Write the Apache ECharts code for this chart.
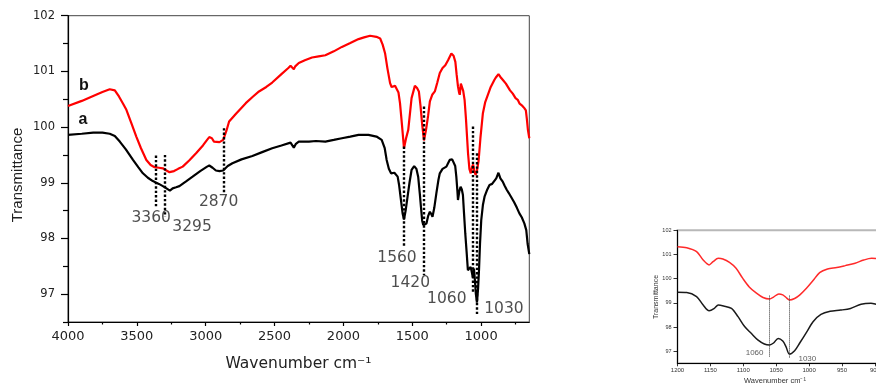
<!DOCTYPE html>
<html>
<head>
<meta charset="utf-8">
<title>FTIR spectra</title>
<script src="https://cdn.jsdelivr.net/npm/echarts@6/dist/echarts.min.js"></script>
<style>
  html, body { margin: 0; padding: 0; background: #fff; }
  #chart { width: 876px; height: 385px; }
</style>
</head>
<body>
<div id="chart"></div>
<script>
// ---------- Spectrum a (black) ----------
const waveA = [4000,3900,3817,3750,3697,3660,3624,3580,3528,3490,3456,3420,3384,3340,3311,3285,3260,3240,3215,3191,3140,3095,3040,2990,2974,2950,2926,2900,2873,2840,2806,2740,2661,2590,2517,2450,2384,2370,2360,2345,2324,2250,2200,2131,2070,2011,1950,1890,1818,1760,1722,1700,1686,1670,1654,1640,1630,1618,1606,1595,1582,1570,1560,1548,1534,1520,1505,1486,1470,1457,1445,1437,1428,1420,1410,1397,1385,1372,1362,1353,1340,1325,1310,1300,1280,1252,1240,1228,1210,1197,1188,1180,1172,1168,1158,1149,1140,1132,1124,1115,1105,1096,1085,1076,1068,1060,1052,1045,1038,1030,1022,1015,1008,999,987,975,955,939,920,908,890,874,860,843,830,815,800,783,760,740,722,705,686,672,662,650];
const transA = [99.86,99.88,99.90,99.90,99.88,99.84,99.74,99.60,99.41,99.28,99.17,99.09,99.03,98.98,98.94,98.90,98.86,98.90,98.92,98.94,99.03,99.11,99.21,99.29,99.31,99.27,99.22,99.21,99.22,99.30,99.35,99.42,99.48,99.55,99.62,99.67,99.72,99.70,99.63,99.70,99.74,99.74,99.75,99.74,99.77,99.80,99.83,99.86,99.86,99.83,99.77,99.62,99.41,99.25,99.17,99.17,99.18,99.15,99.11,98.95,98.69,98.45,98.34,98.50,98.75,99.00,99.23,99.30,99.25,99.11,98.80,98.57,98.32,98.24,98.26,98.27,98.40,98.48,98.44,98.39,98.55,98.81,99.05,99.17,99.25,99.29,99.35,99.41,99.42,99.41,99.30,99.11,98.85,98.69,98.85,98.93,98.88,98.78,98.45,98.09,97.75,97.43,97.45,97.49,97.40,97.30,97.46,97.25,97.00,96.85,97.10,97.45,97.90,98.33,98.60,98.75,98.88,98.96,98.98,98.99,99.08,99.18,99.08,99.02,98.95,98.88,98.82,98.75,98.65,98.55,98.45,98.38,98.27,98.15,97.90,97.72];

// ---------- Spectrum b (red) ----------
const waveB = [4000,3900,3817,3750,3697,3660,3630,3600,3576,3540,3504,3470,3431,3400,3371,3340,3311,3285,3263,3230,3200,3167,3120,3070,3020,2990,2974,2955,2940,2926,2900,2873,2850,2830,2780,2709,2660,2613,2560,2517,2450,2400,2384,2370,2360,2350,2324,2280,2228,2180,2131,2070,2011,1950,1890,1850,1806,1760,1733,1715,1697,1680,1661,1650,1637,1625,1614,1600,1589,1575,1560,1545,1529,1505,1481,1465,1452,1440,1428,1415,1400,1385,1372,1355,1336,1318,1300,1280,1260,1240,1216,1200,1187,1178,1168,1160,1155,1147,1139,1130,1120,1110,1095,1085,1075,1066,1058,1048,1040,1030,1018,1005,987,970,951,930,903,890,874,860,850,840,830,820,810,800,790,783,770,760,750,734,720,700,686,675,668,660,650];
const transB = [100.38,100.47,100.56,100.63,100.68,100.66,100.55,100.42,100.31,100.07,99.83,99.62,99.41,99.32,99.28,99.27,99.26,99.22,99.19,99.21,99.25,99.29,99.40,99.53,99.67,99.77,99.82,99.80,99.74,99.72,99.73,99.77,99.93,100.10,100.24,100.43,100.54,100.64,100.72,100.80,100.95,101.06,101.10,101.08,101.04,101.09,101.15,101.20,101.25,101.27,101.29,101.36,101.44,101.51,101.58,101.61,101.64,101.62,101.59,101.48,101.32,101.05,100.79,100.72,100.70,100.74,100.77,100.62,100.43,100.05,99.62,99.80,99.95,100.52,100.74,100.70,100.64,100.38,100.05,99.76,99.95,100.20,100.46,100.58,100.64,100.80,100.97,101.06,101.11,101.20,101.32,101.28,101.17,100.95,100.73,100.62,100.58,100.78,100.79,100.65,100.49,100.15,99.53,99.25,99.17,99.28,99.33,99.20,99.14,99.22,99.40,99.80,100.25,100.45,100.58,100.72,100.85,100.90,100.95,100.90,100.92,100.84,100.82,100.78,100.74,100.72,100.66,100.67,100.60,100.58,100.52,100.49,100.42,100.38,100.34,100.30,100.15,99.95,99.80];

// ---------- Marked bands (main plot) ----------
const peaks = [3360, 3295, 2870, 1560, 1420, 1060, 1030];
const guideTop = [99.49, 99.50, 99.98, 99.65, 100.37, 100.01, 99.53];
const guideBottom = [98.55, 98.39, 98.81, 97.85, 97.34, 97.02, 96.63];

// ---------- Close-up, 1200-900 cm-1 ----------
const insetWaveA = [1200,1186,1171,1161,1152,1144,1138,1130,1118,1108,1098,1088,1078,1068,1060,1054,1047,1040,1035,1030,1022,1014,1004,994,982,968,952,937,921,906,895,885];
const insetTransA = [99.44,99.43,99.26,98.91,98.67,98.77,98.91,98.87,98.77,98.43,98.02,97.74,97.47,97.30,97.26,97.34,97.53,97.42,97.18,96.88,97.02,97.35,97.78,98.22,98.52,98.65,98.70,98.77,98.94,98.98,98.93,98.92];
const insetWaveB = [1200,1186,1171,1161,1152,1146,1138,1131,1121,1111,1101,1091,1080,1070,1060,1054,1046,1040,1035,1030,1022,1014,1004,994,984,972,958,945,930,917,905,895,885];
const insetTransB = [101.32,101.28,101.12,100.77,100.57,100.70,100.84,100.81,100.67,100.43,100.02,99.66,99.40,99.22,99.16,99.24,99.37,99.33,99.22,99.12,99.18,99.33,99.60,99.92,100.25,100.40,100.46,100.54,100.64,100.77,100.84,100.82,100.78];
const insetPeaks = [1060, 1030];
const insetGuideTop = [99.30, 99.30];
const insetGuideBottom = [96.76, 96.72];

// ---------- Tick values ----------
const mainXMajor = [1000, 1500, 2000, 2500, 3000, 3500, 4000];
const mainXMinor = [750, 1250, 1750, 2250, 2750, 3250, 3750];
const yMajor = [97, 98, 99, 100, 101, 102];
const yMinor = [96.5, 97.5, 98.5, 99.5, 100.5, 101.5];

// ---------- Build option ----------
const zip = (xs, ys) => xs.map((x, i) => [x, ys[i]]);
const plain = (v) => String(v);
const DEJAVU = '"DejaVu Sans", sans-serif';
const ARIAL = '"Liberation Sans", Arial, sans-serif';

// label placement of each band number relative to the bottom end of its guide
const peakLabelOffset = [[-5, 10], [27, 10], [-5, 9], [-7, 11], [-13, 8], [-26, 6], [27, -6]];
const insetLabelOffset = [[-15, -4], [18, 1]];

const hiddenAxisBits = { splitLine: { show: false } };

const option = {
  animation: false,
  backgroundColor: '#fff',
  grid: [
    { left: 68, top: 15.7, width: 461.3, height: 306.3, show: true, borderColor: '#444', borderWidth: 1, containLabel: false, outerBoundsMode: 'none' },
    { left: 677.5, top: 230.3, width: 230.3, height: 133, show: true, borderColor: '#b8b8b8', borderWidth: 2, containLabel: false, outerBoundsMode: 'none' }
  ],
  xAxis: [
    {
      gridIndex: 0, type: 'value', position: 'bottom', inverse: true, min: 650, max: 4000,
      axisLine: { onZero: false, lineStyle: { color: '#000', width: 1.2 } },
      axisTick: { customValues: mainXMajor, length: 4, lineStyle: { color: '#000', width: 1.2 } },
      axisLabel: { customValues: mainXMajor, formatter: plain, margin: 8, fontFamily: DEJAVU, fontSize: 13, color: '#222' },
      ...hiddenAxisBits
    },
    {
      gridIndex: 0, type: 'value', position: 'bottom', inverse: true, min: 650, max: 4000,
      axisLine: { show: false, onZero: false },
      axisTick: { customValues: mainXMinor, length: 2.5, lineStyle: { color: '#000', width: 1.2 } },
      axisLabel: { show: false },
      ...hiddenAxisBits
    },
    {
      gridIndex: 1, type: 'value', position: 'bottom', inverse: true, min: 850, max: 1200, interval: 50,
      axisLine: { onZero: false, lineStyle: { color: '#000', width: 1 } },
      axisTick: { length: 3, lineStyle: { color: '#000', width: 0.8 } },
      axisLabel: { formatter: plain, margin: 4, fontFamily: ARIAL, fontSize: 6, color: '#333' },
      ...hiddenAxisBits
    }
  ],
  yAxis: [
    {
      gridIndex: 0, type: 'value', position: 'left', min: 96.5, max: 102,
      axisLine: { show: true, onZero: false, lineStyle: { color: '#000', width: 1.2 } },
      axisTick: { show: true, customValues: yMajor, length: 7, lineStyle: { color: '#000', width: 1.2 } },
      axisLabel: { customValues: yMajor, formatter: plain, margin: 13, fontFamily: DEJAVU, fontSize: 11.5, color: '#222' },
      ...hiddenAxisBits
    },
    {
      gridIndex: 0, type: 'value', position: 'left', min: 96.5, max: 102,
      axisLine: { show: false, onZero: false },
      axisTick: { show: true, customValues: yMinor, length: 5, lineStyle: { color: '#000', width: 1.2 } },
      axisLabel: { show: false },
      ...hiddenAxisBits
    },
    {
      gridIndex: 1, type: 'value', position: 'left', min: 96.5, max: 102,
      axisLine: { show: true, onZero: false, lineStyle: { color: '#000', width: 1 } },
      axisTick: { show: true, customValues: yMajor, length: 4, lineStyle: { color: '#000', width: 0.8 } },
      axisLabel: { customValues: yMajor, formatter: plain, margin: 6, fontFamily: ARIAL, fontSize: 5.5, color: '#333' },
      ...hiddenAxisBits
    }
  ],
  series: [
    {
      name: 'a', type: 'line', xAxisIndex: 0, yAxisIndex: 0, data: zip(waveA, transA),
      symbol: 'none', lineStyle: { color: '#000', width: 2.2 }, emphasis: { disabled: true }, z: 2
    },
    {
      name: 'b', type: 'line', xAxisIndex: 0, yAxisIndex: 0, data: zip(waveB, transB),
      symbol: 'none', lineStyle: { color: '#ff0000', width: 2.2 }, emphasis: { disabled: true }, z: 2
    },
    {
      name: 'bands', type: 'scatter', xAxisIndex: 0, yAxisIndex: 0,
      symbol: 'circle', symbolSize: 1, itemStyle: { color: 'rgba(0,0,0,0)' },
      data: peaks.map((p, i) => ({ value: [p, guideBottom[i]], label: { offset: peakLabelOffset[i] } })),
      label: {
        show: true, position: 'inside', align: 'center', verticalAlign: 'middle',
        formatter: (d) => String(d.value[0]), fontFamily: DEJAVU, fontSize: 15.5, color: '#222'
      },
      emphasis: { disabled: true },
      markLine: {
        silent: true, symbol: ['none', 'none'], label: { show: false },
        lineStyle: { type: [2.4, 2], color: '#000', width: 2.4, opacity: 1 },
        emphasis: { disabled: true },
        data: peaks.map((p, i) => [{ coord: [p, guideTop[i]] }, { coord: [p, guideBottom[i]] }])
      },
      z: 3
    },
    {
      name: 'inset a', type: 'line', xAxisIndex: 2, yAxisIndex: 2, data: zip(insetWaveA, insetTransA),
      symbol: 'none', smooth: 0.3, lineStyle: { color: '#1a1a1a', width: 1.5 }, emphasis: { disabled: true }, z: 2
    },
    {
      name: 'inset b', type: 'line', xAxisIndex: 2, yAxisIndex: 2, data: zip(insetWaveB, insetTransB),
      symbol: 'none', smooth: 0.3, lineStyle: { color: '#ff2a2a', width: 1.5 }, emphasis: { disabled: true }, z: 2
    },
    {
      name: 'inset bands', type: 'scatter', xAxisIndex: 2, yAxisIndex: 2,
      symbol: 'circle', symbolSize: 1, itemStyle: { color: 'rgba(0,0,0,0)' },
      data: insetPeaks.map((p, i) => ({ value: [p, insetGuideBottom[i]], label: { offset: insetLabelOffset[i] } })),
      label: {
        show: true, position: 'inside', align: 'center', verticalAlign: 'middle',
        formatter: (d) => String(d.value[0]), fontFamily: ARIAL, fontSize: 8, color: '#333'
      },
      emphasis: { disabled: true },
      markLine: {
        silent: true, symbol: ['none', 'none'], label: { show: false },
        lineStyle: { type: [1, 1], color: '#333', width: 1, opacity: 1 },
        emphasis: { disabled: true },
        data: insetPeaks.map((p, i) => [{ coord: [p, insetGuideTop[i]] }, { coord: [p, insetGuideBottom[i]] }])
      },
      z: 3
    }
  ],
  graphic: [
    { type: 'text', x: 18.3, y: 175, rotation: Math.PI / 2,
      style: { text: 'Transmittance', font: '15px "Liberation Sans", Arial, sans-serif', fill: '#222', align: 'center', verticalAlign: 'middle' } },
    { type: 'text', x: 298.5, y: 364,
      style: { text: 'Wavenumber cm\u207B\u00B9', font: '15.5px "DejaVu Sans", sans-serif', fill: '#222', align: 'center', verticalAlign: 'middle' } },
    { type: 'text', x: 84, y: 86,
      style: { text: 'b', font: 'bold 16px "Liberation Sans", Arial, sans-serif', fill: '#111', align: 'center', verticalAlign: 'middle' } },
    { type: 'text', x: 83, y: 120,
      style: { text: 'a', font: 'bold 16px "Liberation Sans", Arial, sans-serif', fill: '#111', align: 'center', verticalAlign: 'middle' } },
    { type: 'text', x: 656.5, y: 297, rotation: Math.PI / 2,
      style: { text: 'Transmittance', font: '7px "Liberation Sans", Arial, sans-serif', fill: '#333', align: 'center', verticalAlign: 'middle' } },
    { type: 'text', x: 775, y: 381,
      style: { text: 'Wavenumber cm\u207B\u00B9', font: '7.5px "Liberation Sans", Arial, sans-serif', fill: '#333', align: 'center', verticalAlign: 'middle' } }
  ]
};

const chart = echarts.init(document.getElementById('chart'), null, { renderer: 'canvas' });
chart.setOption(option);
</script>
</body>
</html>
